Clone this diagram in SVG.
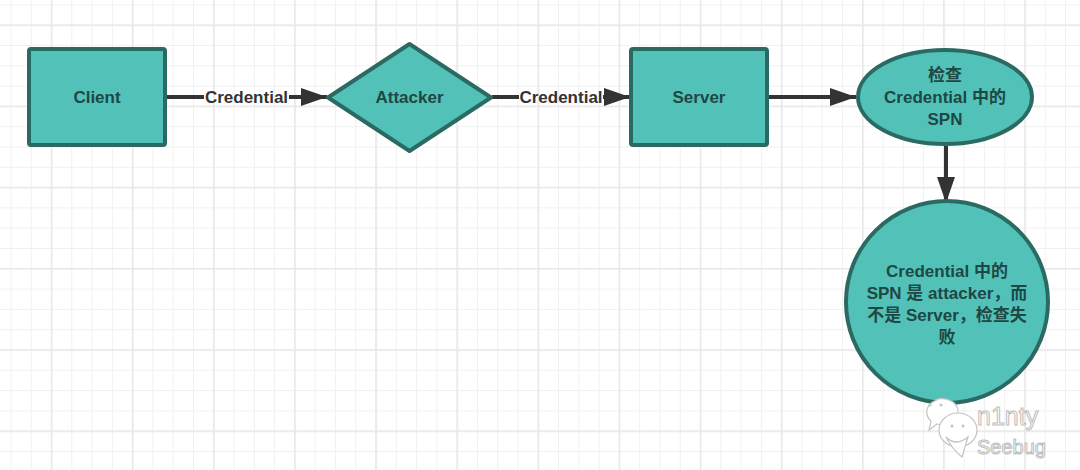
<svg xmlns="http://www.w3.org/2000/svg" width="1080" height="470" viewBox="0 0 1080 470">
<defs>
<pattern id="minor" patternUnits="userSpaceOnUse" x="10.5" y="4.4" width="20.28" height="20.3">
<path d="M0.5 0 V20.3 M0 0.5 H20.28" stroke="#f0f0f0" stroke-width="1" fill="none"/>
</pattern>
<pattern id="major" patternUnits="userSpaceOnUse" x="50.8" y="24.4" width="81.12" height="81.2">
<path d="M0.8 0 V81.2 M0 0.8 H81.12" stroke="#e8e8e8" stroke-width="1.6" fill="none"/>
</pattern>
<marker id="arr" viewBox="0 0 26 18" refX="26" refY="9" markerWidth="26" markerHeight="18" markerUnits="userSpaceOnUse" orient="auto">
<path d="M0 0 L26 9 L0 18 Z" fill="#333"/>
</marker>
<style>
.node{fill:#52c2b8;stroke:#2b6a63;stroke-width:4}
.lbl{font-family:"Liberation Sans","Noto Sans CJK SC",Arial,sans-serif;font-weight:bold;font-size:17px;fill:#1f4744;text-anchor:middle}
.edge{stroke:#333;stroke-width:4;fill:none}
.elbl{font-family:"Liberation Sans",Arial,sans-serif;font-weight:bold;font-size:17px;fill:#333;text-anchor:middle}
.wm{font-family:"Liberation Sans",Arial,sans-serif;fill:#fff;stroke:#bdbdbd;stroke-width:1}
</style>
</defs>
<rect width="1080" height="470" fill="#fff"/>
<rect width="1080" height="470" fill="url(#minor)"/>
<rect width="1080" height="470" fill="url(#major)"/>

<g id="connectors">
<path class="edge" d="M166 97 H204"/>
<path class="edge" d="M289 97 H327" marker-end="url(#arr)"/>
<text class="elbl" x="246.5" y="103">Credential</text>
<path class="edge" d="M492 97 H519"/>
<path class="edge" d="M603 97 H630" marker-end="url(#arr)"/>
<text class="elbl" x="561" y="103">Credential</text>
<path class="edge" d="M769 97 H856" marker-end="url(#arr)"/>
<path class="edge" d="M946 146 V203" marker-end="url(#arr)"/>
</g>

<g id="client">
<rect class="node" x="29" y="49" width="136" height="96" rx="2"/>
<text class="lbl" x="97" y="103">Client</text>
</g>

<g id="attacker">
<path class="node" d="M409.5 44 L491 97.5 L409.5 151 L328 97.5 Z" stroke-linejoin="round"/>
<text class="lbl" x="409.5" y="103">Attacker</text>
</g>

<g id="server">
<rect class="node" x="631" y="49" width="136" height="96" rx="2"/>
<text class="lbl" x="699" y="103">Server</text>
</g>

<g id="check">
<ellipse class="node" cx="945" cy="97" rx="87" ry="47"/>
<text class="lbl" x="945" y="81">检查</text>
<text class="lbl" x="945" y="103">Credential 中的</text>
<text class="lbl" x="945" y="125">SPN</text>
</g>

<g id="fail">
<circle class="node" cx="947" cy="302" r="101"/>
<text class="lbl" x="947" y="277">Credential 中的</text>
<text class="lbl" x="947" y="299">SPN 是 attacker，而</text>
<text class="lbl" x="947" y="321">不是 Server，检查失</text>
<text class="lbl" x="947" y="343">败</text>
</g>

<g id="watermark">
<path d="M935 400 a16 13 0 1 1 2 24 l-8 6 l2 -9 a16 13 0 0 1 6 -21 Z" fill="#fff" stroke="#c4c4c4" stroke-width="1.2"/>
<ellipse cx="958" cy="430" rx="19" ry="17" fill="#fff" stroke="#c4c4c4" stroke-width="1.2"/>
<path d="M946 437 q10 10 22 0 l-6 20 q-10 -8 -16 -20 Z" fill="#fff" stroke="#c4c4c4" stroke-width="1.2"/>
<circle cx="930" cy="405" r="1.5" fill="#c4c4c4"/>
<circle cx="941" cy="405" r="1.5" fill="#c4c4c4"/>
<circle cx="952" cy="426" r="1.5" fill="#c4c4c4"/>
<circle cx="963" cy="426" r="1.5" fill="#c4c4c4"/>
<text class="wm" x="977" y="425" font-size="25">n1nty</text>
<text class="wm" x="977" y="454" font-size="20">Seebug</text>
</g>
</svg>
